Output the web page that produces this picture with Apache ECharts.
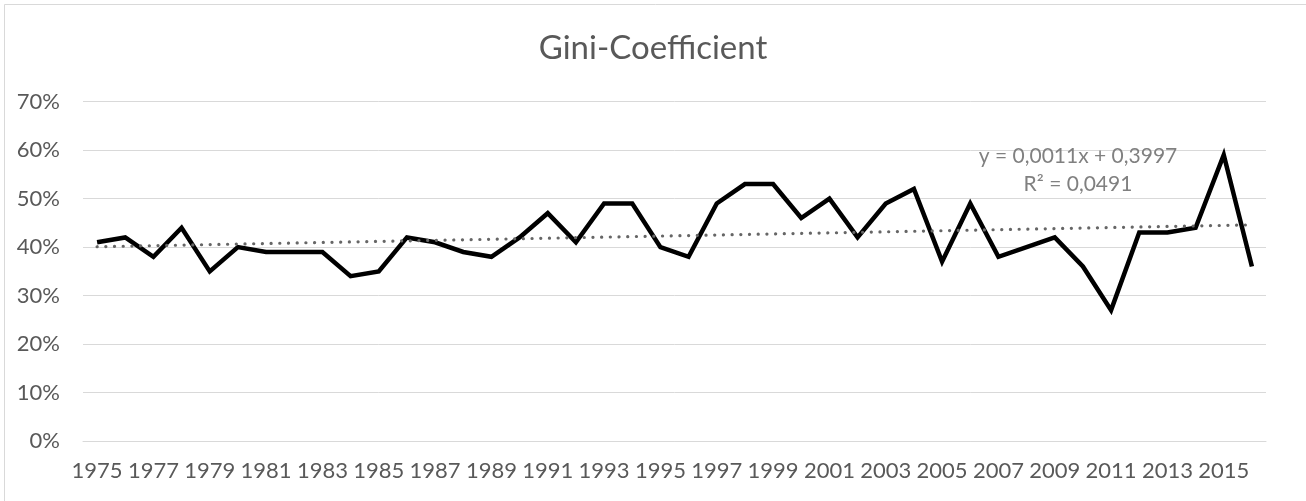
<!DOCTYPE html>
<html>
<head>
<meta charset="utf-8">
<script src="https://cdn.jsdelivr.net/npm/echarts@6/dist/echarts.min.js"></script>
<style>
html,body{margin:0;padding:0;background:#fff;}
#c{width:1306px;height:501px;}
</style>
</head>
<body>
<div id="c"></div>
<script>
var years = ['1975','1976','1977','1978','1979','1980','1981','1982','1983','1984','1985','1986','1987','1988','1989','1990','1991','1992','1993','1994','1995','1996','1997','1998','1999','2000','2001','2002','2003','2004','2005','2006','2007','2008','2009','2010','2011','2012','2013','2014','2015','2016'];
var gini = [0.41,0.42,0.38,0.44,0.35,0.40,0.39,0.39,0.39,0.34,0.35,0.42,0.41,0.39,0.38,0.42,0.47,0.41,0.49,0.49,0.40,0.38,0.49,0.53,0.53,0.46,0.50,0.42,0.49,0.52,0.37,0.49,0.38,0.40,0.42,0.36,0.27,0.43,0.43,0.44,0.59,0.36];
var trendLine = [['1975',0.4008],['2016',0.4459]];
var yTicks = [0,0.1,0.2,0.3,0.4,0.5,0.6,0.7];
var titleText = 'Gini-Coefficient';
var equationLines = ['y = 0,0011x + 0,3997','R² = 0,0491'];

var FONT = 'Lato, "Open Sans", sans-serif';
var chart = echarts.init(document.getElementById('c'), null, {renderer:'canvas'});
chart.setOption({
  animation:false,
  backgroundColor:'#fff',
  title:{
    text:titleText, left:'center', top:27,
    textStyle:{fontFamily:FONT, fontSize:33, fontWeight:'normal', color:'#595959'}
  },
  grid:{left:83, right:40, top:101.7, bottom:60, containLabel:false},
  xAxis:{
    type:'category', data:years, boundaryGap:true,
    axisLine:{show:true, lineStyle:{color:'#d9d9d9', width:1}},
    axisTick:{show:false},
    axisLabel:{interval:1, color:'#595959', fontFamily:FONT, fontSize:22, margin:19},
    splitLine:{show:false}
  },
  yAxis:{
    type:'value', min:yTicks[0], max:yTicks[yTicks.length-1], interval:0.1,
    axisLine:{show:false}, axisTick:{show:false},
    axisLabel:{color:'#595959', fontFamily:FONT, fontSize:22, margin:23,
      formatter:function(v){return Math.round(v*100)+'%';}},
    splitLine:{show:true, lineStyle:{color:'#d9d9d9', width:1}}
  },
  series:[
    {
      type:'line', data:gini, symbol:'none', z:3,
      lineStyle:{color:'#000', width:4.5, join:'miter', cap:'butt'}
    },
    {
      type:'line', data:trendLine, symbol:'none', z:4,
      lineStyle:{color:'#666', width:3.2, type:[0.1,8.6], cap:'round'}
    }
  ],
  graphic:[
    {type:'rect', left:2, top:2, shape:{width:1302, height:497},
     style:{fill:'none', stroke:'#d9d9d9', lineWidth:1}, silent:true, z:-1},
    {type:'text', x:1078, y:156, z:10,
     style:{text:equationLines[0], fill:'#808080', font:'21px '+FONT, align:'center', verticalAlign:'middle'}},
    {type:'text', x:1078, y:184, z:10,
     style:{text:equationLines[1], fill:'#808080', font:'21px '+FONT, align:'center', verticalAlign:'middle'}}
  ]
});
</script>
</body>
</html>
